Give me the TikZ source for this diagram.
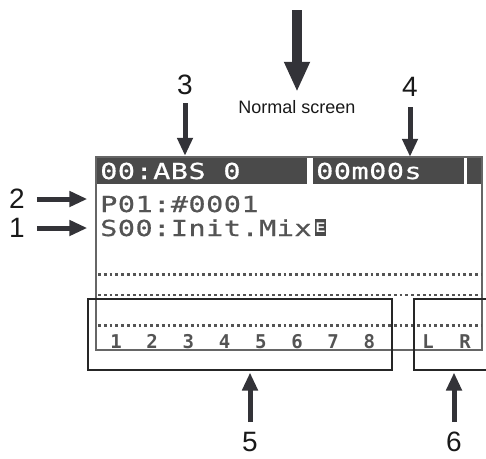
\documentclass[tikz,border=0pt]{standalone}
\usepackage{fontspec}
\setmainfont{Liberation Sans}
\newfontfamily\lcdfont[FakeStretch=1.3,FakeBold=0.6,LetterSpace=2]{DejaVu Sans Mono}
\newfontfamily\chfont{DejaVu Sans Mono}
\usetikzlibrary{positioning,arrows.meta}
\definecolor{arrowcolor}{rgb}{0.2,0.2,0.22}
\definecolor{bandcolor}{rgb}{0.29,0.29,0.29}
\definecolor{lcdcolor}{rgb}{0.33,0.33,0.33}
\definecolor{framecolor}{rgb}{0.4,0.4,0.4}
\tikzset{
  band/.style={fill=bandcolor, inner sep=0pt, minimum height=26pt},
  scr/.style={draw=framecolor, line width=1.3pt, inner sep=0pt, minimum width=386pt, minimum height=193pt},
  lcd/.style={font=\lcdfont\fontsize{22}{22}\selectfont, text=lcdcolor, inner sep=0pt, anchor=base west},
  lcdhead/.style={lcd, text=white},
  emark/.style={fill=bandcolor, text=white, font=\bfseries\fontsize{14}{14}\selectfont, inner sep=0pt, minimum width=11pt, minimum height=17pt},
  chnum/.style={font=\chfont\bfseries\fontsize{19}{19}\selectfont, text=lcdcolor, inner sep=0pt, anchor=base},
  dots/.style={line width=2.7pt, dash pattern=on 2.8pt off 3pt, draw=lcdcolor},
  grp/.style={draw=black!85, line width=2pt, inner sep=0pt, minimum height=71pt},
  num/.style={font=\fontsize{28}{28}\selectfont, text=black!90, inner sep=0pt},
  ttl/.style={font=\fontsize{18}{18}\selectfont, text=black!90, inner sep=0pt, anchor=base},
  bigarr/.style={-{Triangle[length=30pt,width=24pt]}, line width=10pt, draw=arrowcolor, fill=arrowcolor},
  callout/.style={-{Triangle[length=18pt,width=15pt]}, line width=5pt, draw=arrowcolor, fill=arrowcolor},
}
\begin{document}
\begin{tikzpicture}[x=1pt,y=-1pt]
\useasboundingbox (0,0) rectangle (486,458);
\clip (0,0) rectangle (486,458);
\node[band, minimum width=211pt] (hdrA) at (201.5,171) {};
\node[band, minimum width=151pt] (hdrB) at (388.5,171) {};
\node[band, minimum width=15pt] (hdrC) at (474.5,171) {};
\node[scr] (screen) at (289,253.5) {};
\node[lcdhead] (abs) at (100,179) {00:ABS 0};
\node[lcdhead] (clock) at (316,179) {00m00s};
\node[lcd] (prog) at (100,212) {P01:\#0001};
\node[lcd] (scene) at (100,236) {S00:Init.Mix};
\node[emark, right=3pt of scene] (edit) {E};
\foreach \y in {274.5,295,325.5}
  \draw[dots] (98,\y) -- (481,\y);
\foreach \ch [count=\i] in {1,...,8}
  \node[chnum] (ch\i) at ({116+36.2*(\i-1)},348) {\ch};
\node[chnum] (chL) at (428,348) {L};
\node[chnum] (chR) at (465,348) {R};
\node[grp, minimum width=304pt] (mix) at (240,334.5) {};
\node[grp, minimum width=80pt] (stereo) at (454,334.5) {};
\node[ttl] (title) at (297,113) {Normal screen};
\coordinate (drop) at (297,10);
\draw[bigarr, shorten >=8pt] (drop) -- (title.north);
\node[num, anchor=south] (n3) at (185,95) {3};
\node[num, anchor=south] (n4) at (410,97) {4};
\node[num] (n2) at (17,199) {2};
\node[num] (n1) at (17,228) {1};
\node[num, anchor=north] (n5) at (250,432) {5};
\node[num, anchor=north] (n6) at (454,432) {6};
\draw[callout, shorten <=8pt, shorten >=2pt] (n3) -- (n3 |- hdrA.north);
\draw[callout, shorten <=10pt, shorten >=1pt] (n4) -- (n4 |- hdrB.north);
\draw[callout, shorten <=12pt, shorten >=8pt] (n2) -- (n2 -| screen.west);
\draw[callout, shorten <=12pt, shorten >=8pt] (n1) -- (n1 -| screen.west);
\draw[callout, shorten <=10pt, shorten >=1.5pt] (n5) -- (n5 |- mix.south);
\draw[callout, shorten <=10pt, shorten >=1.5pt] (n6) -- (n6 |- stereo.south);
\end{tikzpicture}
\end{document}
